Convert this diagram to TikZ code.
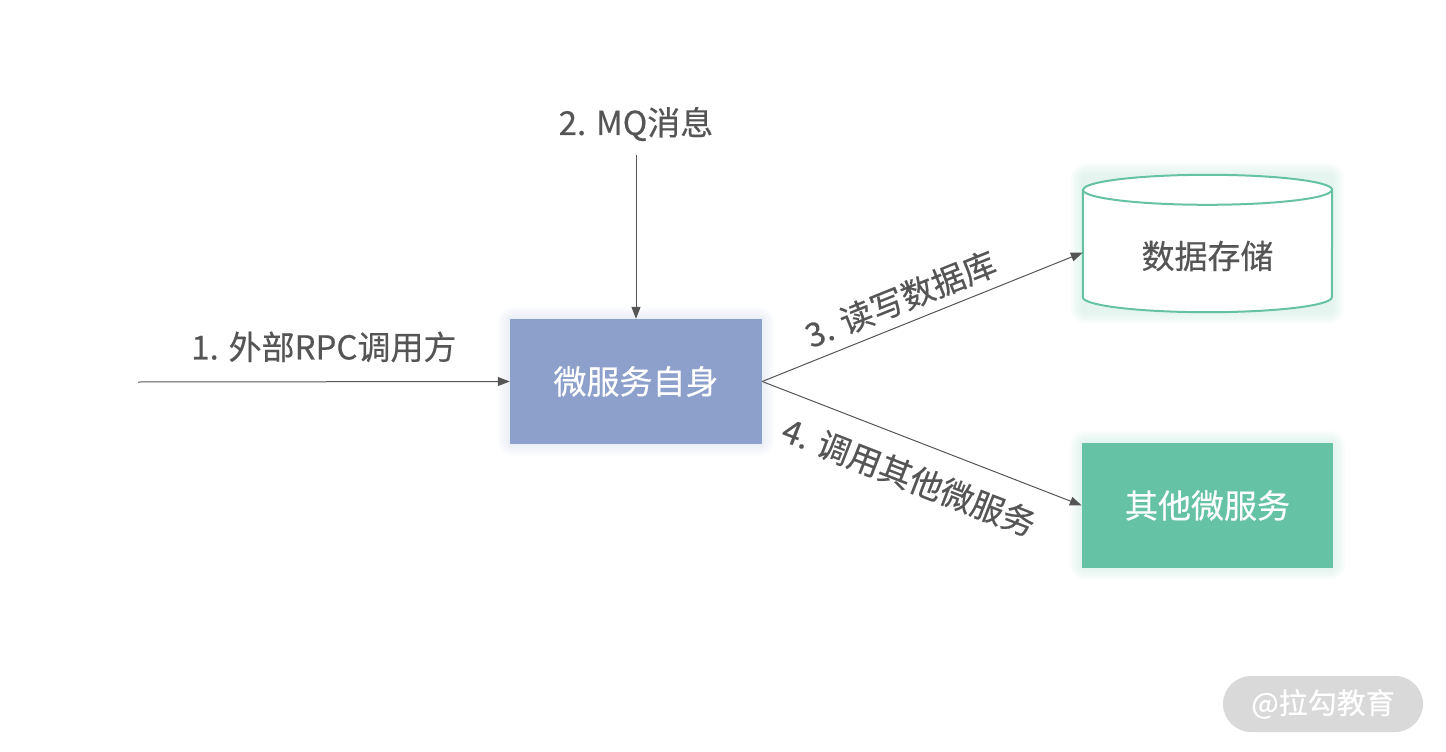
\documentclass[tikz,border=0pt]{standalone}
\usepackage{fontspec}
\setmainfont{Noto Sans CJK SC}[FakeBold=0.4]
\usetikzlibrary{arrows.meta,calc,backgrounds}
\definecolor{boxblue}{HTML}{8DA0CB}
\definecolor{boxgreen}{HTML}{66C2A5}
\definecolor{textgray}{HTML}{555555}
\definecolor{markgray}{HTML}{D9D9D9}

\begin{document}
\begin{tikzpicture}[x=1pt,y=-1pt]

      \tikzset{service/.style={rectangle, inner sep=0pt, minimum width=252pt, minimum height=125pt, text=white, font=\fontsize{33}{40}\selectfont},
               tag/.style={inner sep=0pt, text=textgray, font=\fontsize{33}{40}\selectfont},
               arr/.style={draw=textgray, line width=1pt, -{Triangle[length=12pt,width=9pt]}},
               dbline/.style={draw=boxgreen, line width=2pt}}
      \useasboundingbox (0,0) rectangle (1446,752);
%% Nodes
      \node[service, fill=boxblue] (self) at (636,381.5) {微服务自身};
      \node[service, fill=boxgreen, minimum width=251pt] (other) at (1207.5,505.5) {其他微服务};
      \node[rectangle, inner sep=0pt, minimum width=249pt, minimum height=137pt] (db) at (1207.5,243.5) {};
      \node[tag] (mq) at (636,124) {2. MQ消息};
      \coordinate (caller) at (138,382);
      \node[rectangle, rounded corners=28pt, fill=markgray, minimum width=200pt, minimum height=56pt, inner sep=0pt, text=white, font=\fontsize{29}{34}\selectfont] (mark) at (1323,704) {@拉勾教育};
%% Storage
      \draw[dbline, fill=white] ($(db.north west)+(0,-15pt)$) -- ($(db.south west)+(0,15pt)$)
            arc[start angle=180, end angle=360, x radius=124.5pt, y radius=15pt]
            -- ($(db.north east)+(0,-15pt)$)
            arc[start angle=0, end angle=180, x radius=124.5pt, y radius=15pt] -- cycle;
      \draw[dbline] ($(db.north west)+(0,-15pt)$) arc[start angle=180, end angle=360, x radius=124.5pt, y radius=15pt];
      \node[tag] (dbname) at (1207.5,256) {数据存储};
%% Glow
      \begin{scope}[on background layer]
        \foreach \n/\c in {self/boxblue, other/boxgreen, db/boxgreen} {
          \foreach \r in {2,4,...,12} {
            \fill[\c, opacity=0.03, rounded corners=\r pt+4pt] ([shift={(-\r pt,-\r pt)}]\n.south west) rectangle ([shift={(\r pt,\r pt)}]\n.north east);
          }
        }
      \end{scope}
%% Edges
      \path (caller) edge[arr] node[tag, midway, above=19pt] {1. 外部RPC调用方} (self.west);
      \path (mq) edge[arr, shorten <=14pt] (self.north);
      \path (self.east) edge[arr] node[tag, sloped, pos=0.46, above=9pt] {3. 读写数据库} ([yshift=-9pt]db.west);
      \path (self.east) edge[arr] node[tag, sloped, pos=0.5, below=20pt] {4. 调用其他微服务} (other.west);

\end{tikzpicture}
\end{document}
